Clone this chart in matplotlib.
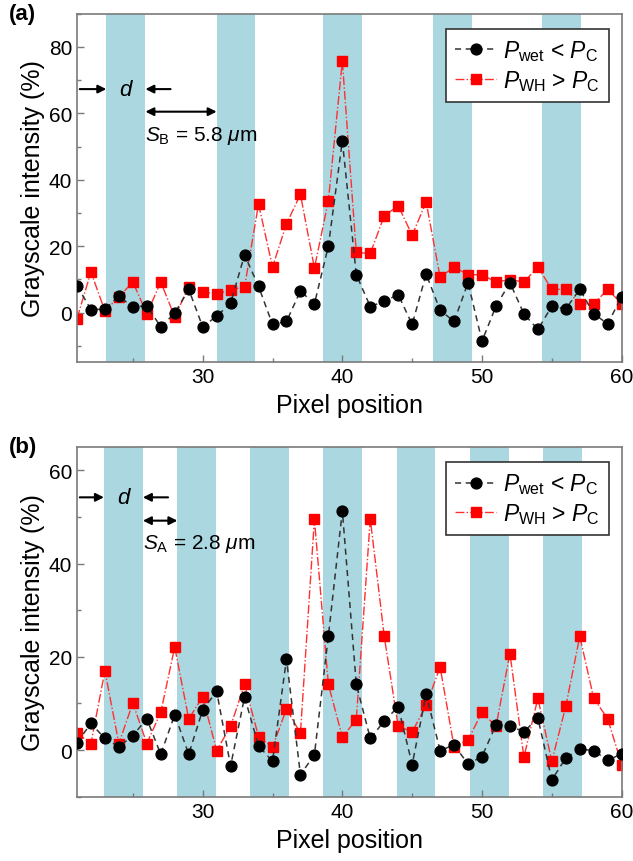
import matplotlib
matplotlib.use("Agg")
import matplotlib.pyplot as plt
from matplotlib.ticker import MultipleLocator

plt.rcParams["font.family"] = ["Liberation Sans", "DejaVu Sans"]
plt.rcParams["mathtext.fontset"] = "custom"
plt.rcParams["mathtext.rm"] = "Liberation Sans"
plt.rcParams["mathtext.it"] = "Liberation Sans:italic"
plt.rcParams["mathtext.bf"] = "Liberation Sans:bold"

# pixel positions (shared by both panels)
pixels = list(range(21, 61))

# panel (a): wide spacing S_B = 5.8 um
wet_a = [8.1, 0.9, 1.0, 4.9, 1.7, 2.0, -4.3, -0.2, 7.0, -4.3,
         -1.1, 2.8, 17.4, 7.9, -3.6, -2.7, 6.5, 2.6, 20.0, 51.7,
         11.4, 1.8, 3.4, 5.4, -3.6, 11.6, 0.7, -2.7, 9.0, -8.6,
         1.9, 9.0, -0.4, -5.1, 1.9, 1.1, 7.0, -0.4, -3.4, 4.8]
wh_a = [-1.8, 12.2, 0.5, 4.7, 9.2, -0.4, 9.2, -1.3, 7.7, 6.3,
        5.5, 6.9, 7.7, 32.7, 13.7, 26.7, 35.6, 13.4, 33.7, 75.7,
        18.1, 17.8, 29.1, 32.2, 23.3, 33.3, 10.7, 13.7, 11.4, 11.4,
        9.2, 9.9, 9.2, 13.7, 7.0, 7.0, 2.6, 2.6, 7.0, 2.6]
bands_a = [(23.1, 25.9), (31.0, 33.75), (38.6, 41.4), (46.5, 49.25), (54.3, 57.1)]

# panel (b): narrow spacing S_A = 2.8 um
wet_b = [1.6, 5.7, 2.5, 0.7, 3.1, 6.7, -0.9, 7.6, -0.9, 8.6,
         12.6, -3.4, 11.4, 0.9, -2.4, 19.5, -5.3, -1.0, 24.5, 51.3,
         14.1, 2.5, 6.2, 9.3, -3.1, 12.0, -0.1, 1.1, -3.0, -1.4,
         5.4, 5.2, 3.9, 6.9, -6.4, -1.7, 0.2, -0.1, -2.2, -0.8]
wh_b = [3.6, 1.4, 17.0, 1.4, 10.1, 1.4, 8.1, 22.1, 6.7, 11.4,
        -0.1, 5.1, 14.1, 2.9, 0.6, 8.8, 3.6, 49.5, 14.1, 2.8,
        6.5, 49.6, 24.4, 5.1, 3.9, 9.6, 17.8, 0.7, 2.2, 8.1,
        5.1, 20.7, -1.5, 11.1, -2.4, 9.4, 24.4, 11.1, 6.7, -3.1]
bands_b = [(22.93, 25.72), (28.19, 30.94), (33.42, 36.19), (38.6, 41.4),
           (43.9, 46.66), (49.12, 51.92), (54.4, 57.17)]

BAND_COLOR = "#abd7e1"
SPINE_COLOR = "#7a7a7a"


def draw_panel(ax, wet, wh, bands, ylim, label, spacing_text, arrow_y, text_y):
    """Draw one grayscale profile panel with shaded stripes and annotations."""
    for x0, x1 in bands:
        ax.axvspan(x0, x1, color=BAND_COLOR, lw=0, zorder=0)

    ax.plot(pixels, wet, ls="--", color="#333333", lw=1.1, marker="o",
            ms=7.8, mfc="black", mec="black", dashes=(4, 3),
            label=r"$P_{\mathrm{wet}}$ < $P_{\mathrm{C}}$", zorder=3)
    ax.plot(pixels, wh, ls="-.", color="#ff3030", lw=1.0, marker="s",
            ms=6.8, mfc="#ff0000", mec="#ff0000",
            label=r"$P_{\mathrm{WH}}$ > $P_{\mathrm{C}}$", zorder=2)

    ax.set_xlim(21, 60)
    ax.set_ylim(*ylim)
    ax.xaxis.set_major_locator(MultipleLocator(10))
    ax.xaxis.set_minor_locator(MultipleLocator(5))
    ax.yaxis.set_major_locator(MultipleLocator(20))
    ax.yaxis.set_minor_locator(MultipleLocator(10))
    ax.tick_params(which="both", direction="in", colors=SPINE_COLOR,
                   labelcolor="black", labelsize=15, width=1.0)
    ax.tick_params(which="major", length=5)
    ax.tick_params(which="minor", length=3)
    for sp in ax.spines.values():
        sp.set_color(SPINE_COLOR)
        sp.set_linewidth(1.2)

    ax.set_xlabel("Pixel position", fontsize=18, labelpad=5)
    ax.set_ylabel("Grayscale intensity (%)", fontsize=18, labelpad=3)

    leg = ax.legend(loc="upper right", bbox_to_anchor=(0.977, 0.956),
                    borderaxespad=0, fontsize=16.5, numpoints=1,
                    handlelength=1.8, handletextpad=0.3, fancybox=False,
                    framealpha=1, edgecolor="#333333", borderpad=0.4,
                    labelspacing=0.2)
    leg.get_frame().set_linewidth(1.2)

    # stripe width d and spacing S
    x0, x1 = bands[0]
    x2 = bands[1][0]
    arrow = dict(arrowstyle="-|>", color="black", lw=1.5, mutation_scale=12,
                 shrinkA=0, shrinkB=0)
    ax.annotate("", xy=(x0, arrow_y[0]), xytext=(21.2, arrow_y[0]),
                arrowprops=arrow)
    ax.annotate("", xy=(x1, arrow_y[0]), xytext=(x1 + 1.8, arrow_y[0]),
                arrowprops=arrow)
    ax.text((x0 + x1) / 2, arrow_y[0], "d", fontsize=16, style="italic",
            ha="center", va="center")
    ax.annotate("", xy=(x2, arrow_y[1]), xytext=(x1, arrow_y[1]),
                arrowprops=dict(arrowstyle="<|-|>", color="black", lw=1.5,
                                mutation_scale=12, shrinkA=0, shrinkB=0))
    ax.text(x1, text_y, spacing_text, fontsize=15, ha="left", va="center")

    ax.text(-0.125, 1.0, label, transform=ax.transAxes, fontsize=16,
            fontweight="bold", ha="left", va="center")


fig = plt.figure(figsize=(6.33, 8.62), dpi=100)
ax_a = fig.add_axes([0.1216, 0.5785, 0.8605, 0.4044])
ax_b = fig.add_axes([0.1216, 0.0746, 0.8605, 0.4057])

draw_panel(ax_a, wet_a, wh_a, bands_a, (-15, 90), "(a)",
           r"$S_{\mathrm{B}}$ = 5.8 $\mu$m", (67.3, 60.5), 53.6)
draw_panel(ax_b, wet_b, wh_b, bands_b, (-10, 65), "(b)",
           r"$S_{\mathrm{A}}$ = 2.8 $\mu$m", (54.2, 49.2), 44.4)

fig.savefig("out.png", dpi=100)
